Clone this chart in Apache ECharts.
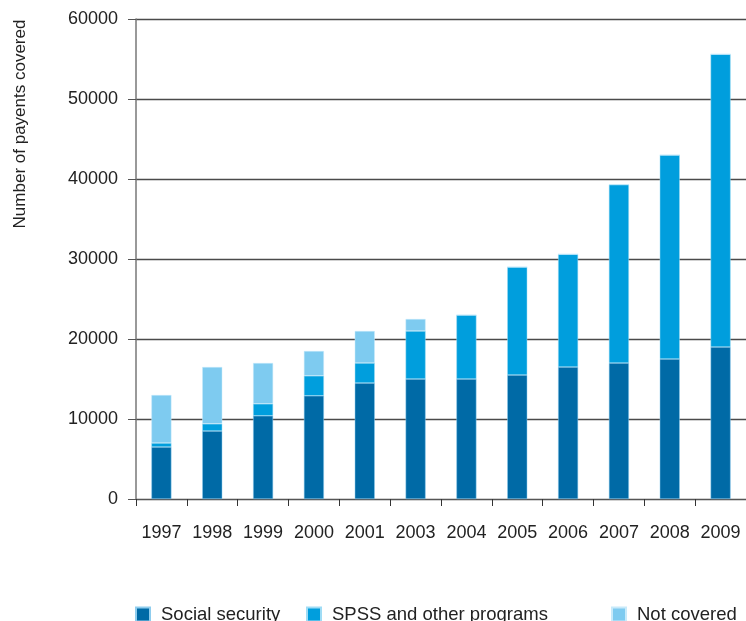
<!DOCTYPE html>
<html><head><meta charset="utf-8">
<script src="https://cdn.jsdelivr.net/npm/echarts@6/dist/echarts.min.js"></script>
<style>html,body{margin:0;padding:0;background:#fff}#c{width:746px;height:621px}</style>
</head><body><div id="c"></div>
<script>
var years = ['1997','1998','1999','2000','2001','2003','2004','2005','2006','2007','2008','2009'];
var socialSecurity = [6500, 8500, 10400, 12900, 14500, 15000, 15000, 15500, 16500, 17000, 17500, 19000];
var spssOther = [500, 900, 1500, 2500, 2500, 6000, 8000, 13500, 14100, 22300, 25500, 36600];
var notCovered = [6000, 7100, 5100, 3100, 4000, 1500, 0, 0, 0, 0, 0, 0];
var yTicks = [0, 10000, 20000, 30000, 40000, 50000, 60000];

var FONT = '"Liberation Sans", Arial, sans-serif';
var colors = ['#006AA6', '#009EDD', '#7ECBF0'];
var chart = echarts.init(document.getElementById('c'));
function leg(name, left) {
  return {data: [name], left: left, top: 600, itemWidth: 14, itemHeight: 14, icon: 'rect',
    textStyle: {fontFamily: FONT, fontSize: 18.5, color: '#222', padding: [0,0,0,6]}, selectedMode: false};
}
chart.setOption({
  animation: false,
  color: colors,
  grid: {left: 136, top: 19, width: 612, height: 480, containLabel: false},
  legend: [leg('Social security', 130), leg('SPSS and other programs', 301), leg('Not covered', 606)],
  graphic: [{type: 'text', x: 20, y: 124, rotation: Math.PI / 2,
    style: {text: 'Number of payents covered', fontFamily: FONT, fontSize: 17, fill: '#222', align: 'center', verticalAlign: 'middle'}}],
  xAxis: {type: 'category', data: years,
    axisLine: {lineStyle: {color: '#555', width: 1}},
    axisTick: {show: true, interval: 0, length: 7, lineStyle: {color: '#333'}},
    axisLabel: {interval: 0, fontFamily: FONT, fontSize: 18, color: '#222', margin: 25}},
  yAxis: {type: 'value', min: yTicks[0], max: yTicks[yTicks.length - 1], interval: 10000,
    axisLine: {show: true, lineStyle: {color: '#777', width: 1.5}},
    axisTick: {show: true, length: 8, lineStyle: {color: '#555'}},
    splitLine: {lineStyle: {color: '#4a4a4a', width: 1.3}},
    axisLabel: {fontFamily: FONT, fontSize: 18, color: '#222', margin: 18,
      formatter: function (v) { return String(v); }}},
  series: [
    {name: 'Social security', type: 'bar', stack: 's', barWidth: 20, data: socialSecurity,
      itemStyle: {borderColor: '#8fcdee', borderWidth: 0.5}},
    {name: 'SPSS and other programs', type: 'bar', stack: 's', barWidth: 20, data: spssOther,
      itemStyle: {borderColor: '#9fdcf5', borderWidth: 0.5}},
    {name: 'Not covered', type: 'bar', stack: 's', barWidth: 20, data: notCovered,
      itemStyle: {borderColor: '#c8eafa', borderWidth: 0.5}}
  ]
});
</script></body></html>
